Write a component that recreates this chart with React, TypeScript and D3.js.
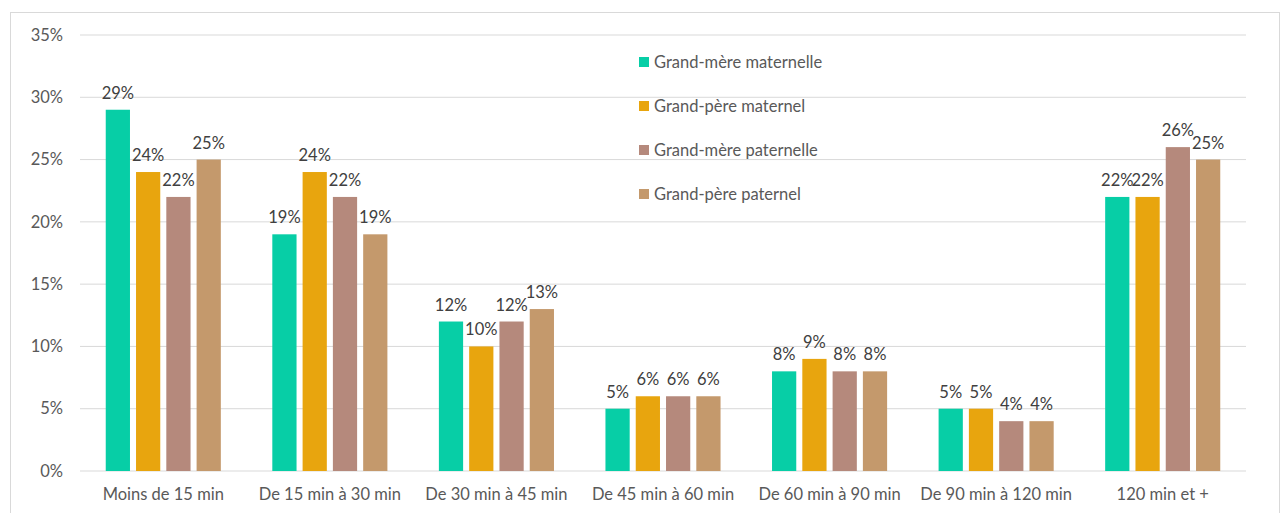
import React from "react";
import * as d3 from "d3";

const categories = [
  "Moins de 15 min",
  "De 15 min à 30 min",
  "De 30 min à 45 min",
  "De 45 min à 60 min",
  "De 60 min à 90 min",
  "De 90 min à 120 min",
  "120 min et +",
];
const seriesNames = [
  "Grand-mère maternelle",
  "Grand-père maternel",
  "Grand-mère paternelle",
  "Grand-père paternel",
];
const gmMaternelle = [29, 19, 12, 5, 8, 5, 22];
const gpMaternel = [24, 24, 10, 6, 9, 5, 22];
const gmPaternelle = [22, 22, 12, 6, 8, 4, 26];
const gpPaternel = [25, 19, 13, 6, 8, 4, 25];
const seriesValues = [gmMaternelle, gpMaternel, gmPaternelle, gpPaternel];
const colors = ["#07CEA6", "#E8A50E", "#B5897C", "#C4996C"];
const yTicks = [0, 5, 10, 15, 20, 25, 30, 35];

const W = 1282;
const H = 513;
const left = 80;
const right = 1246;
const top = 35;
const bottom = 471;
const font = "Lato, sans-serif";
const fs = 16.5;

export default function App() {
  const x0 = d3.scaleBand<string>().domain(categories).range([left, right]).paddingInner(0).paddingOuter(0);
  const x1 = d3
    .scaleBand<string>()
    .domain(seriesNames)
    .range([0, x0.bandwidth()])
    .paddingInner(0.2)
    .paddingOuter(0.85);
  const y = d3.scaleLinear().domain([0, 35]).range([bottom, top]);

  return (
    <svg width={W} height={H} style={{ position: "absolute", left: 0, top: 0 }}>
      <rect x={10.5} y={12.5} width={1269} height={520} fill="#fff" stroke="#d9d9d9" strokeWidth={1} />
      {yTicks.map((t) => (
        <g key={t}>
          <line x1={left} x2={right} y1={y(t)} y2={y(t)} stroke="#d9d9d9" strokeWidth={1} />
          <text x={63} y={y(t)} dy="0.35em" textAnchor="end" fontFamily={font} fontSize={fs} fill="#595959">
            {t}%
          </text>
        </g>
      ))}
      {categories.map((c, ci) => (
        <g key={c}>
          {seriesNames.map((s, si) => {
            const v = seriesValues[si][ci];
            const bx = (x0(c) as number) + (x1(s) as number);
            return (
              <g key={s}>
                <rect x={bx} y={y(v)} width={x1.bandwidth()} height={bottom - y(v)} fill={colors[si]} />
                <text
                  x={bx + x1.bandwidth() / 2}
                  y={y(v) - 11}
                  textAnchor="middle"
                  fontFamily={font}
                  fontSize={fs}
                  fill="#404040"
                >
                  {v}%
                </text>
              </g>
            );
          })}
          <text
            x={(x0(c) as number) + x0.bandwidth() / 2}
            y={494}
            dy="0.35em"
            textAnchor="middle"
            fontFamily={font}
            fontSize={fs}
            fill="#595959"
          >
            {c}
          </text>
        </g>
      ))}
      {seriesNames.map((s, i) => (
        <g key={s} transform={`translate(639, ${62 + i * 44})`}>
          <rect x={0} y={-5} width={10} height={10} fill={colors[i]} />
          <text x={15} y={0} dy="0.35em" fontFamily={font} fontSize={fs} fill="#595959">
            {s}
          </text>
        </g>
      ))}
    </svg>
  );
}
